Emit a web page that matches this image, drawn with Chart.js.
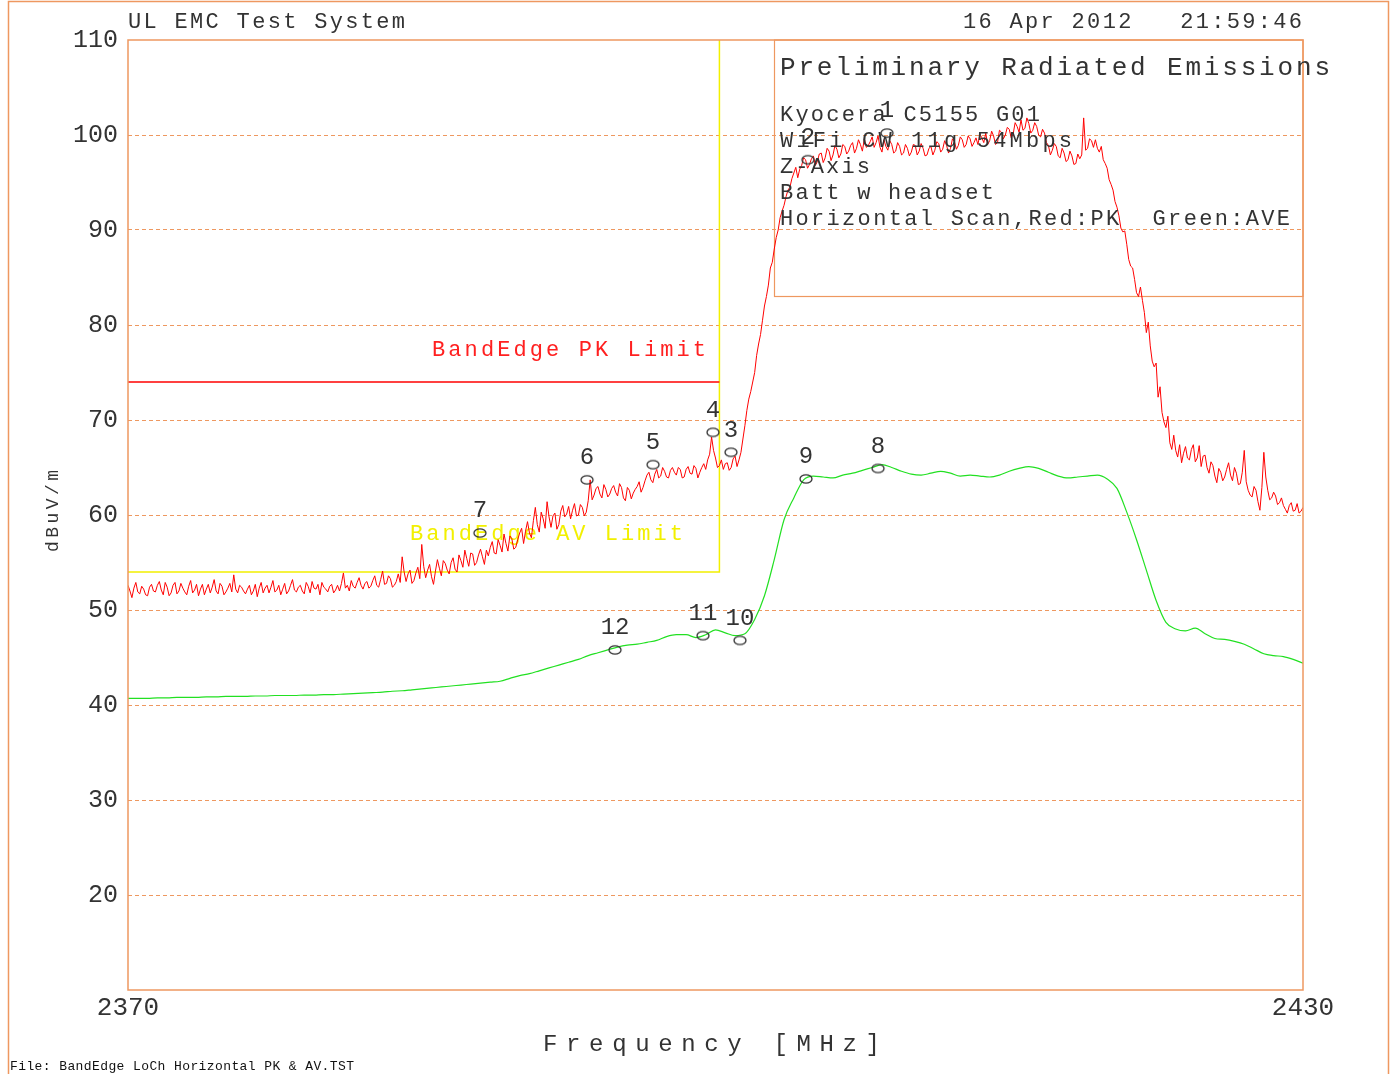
<!DOCTYPE html>
<html>
<head>
<meta charset="utf-8">
<script src="https://cdn.jsdelivr.net/npm/chart.js@4.4.1/dist/chart.umd.min.js"></script>
<style>
html,body{margin:0;padding:0;background:#fff;}
canvas{display:block;}
</style>
</head>
<body>
<canvas id="c" width="1393" height="1074"></canvas>
<script>
// ---- data ----
const freqStart = 2370, freqEnd = 2430;
const pkStep = 0.1;   // MHz between PK sweep points
const avStep = 0.5;   // MHz between AVE sweep points
const pkValues = [
52.6,52.0,51.3,52.3,52.9,51.9,51.7,52.5,52.2,51.6,51.5,52.4,52.7,52.0,51.9,52.6,53.0,52.1,51.6,52.9,
52.4,51.5,51.8,52.6,52.9,51.7,52.0,52.8,52.3,51.9,51.6,52.5,53.1,51.8,52.1,52.7,51.5,52.2,52.7,51.6,
52.2,52.7,51.8,52.4,53.2,52.0,51.7,52.8,52.5,51.6,51.9,52.3,52.8,51.9,53.7,52.2,51.8,52.6,52.4,52.0,
51.7,52.2,52.6,51.6,52.0,52.7,51.4,52.3,52.9,51.8,52.3,52.6,51.8,52.4,53.1,51.9,52.1,52.6,51.6,52.2,
52.8,51.7,52.0,52.6,53.2,52.1,51.9,52.4,52.6,52.0,51.7,52.9,52.5,51.8,53.0,52.3,52.2,52.7,51.6,52.9,
52.4,52.2,51.9,52.5,52.7,51.8,52.1,52.6,52.0,52.8,53.9,52.3,52.6,52.0,53.1,52.5,52.3,52.9,53.4,52.6,
52.2,52.8,53.0,52.3,52.5,53.1,53.6,52.6,52.4,53.2,54.1,52.7,52.8,53.6,53.3,52.4,52.6,53.0,53.8,52.9,
55.6,54.0,53.0,53.8,54.2,52.8,53.1,53.9,54.5,53.3,56.9,54.6,53.4,54.2,54.8,53.5,52.7,54.1,55.3,54.4,
53.6,55.2,54.9,54.2,53.8,55.0,55.5,54.3,54.0,55.8,55.2,54.5,56.3,55.4,54.6,56.0,55.9,54.7,55.0,55.8,
56.4,55.6,54.8,56.3,55.7,56.6,57.2,56.0,55.9,57.4,56.8,56.1,58.0,57.0,56.2,57.8,57.5,56.4,56.6,57.4,
58.1,58.6,57.0,58.3,59.3,58.1,57.6,59.4,60.8,59.0,58.2,60.3,59.6,58.6,61.4,59.8,58.7,59.9,60.2,58.5,
59.0,60.4,61.0,59.8,60.1,60.9,59.6,60.5,61.2,59.9,60.0,61.1,60.8,59.9,60.3,61.5,63.7,61.6,62.1,62.8,
63.0,62.2,61.8,63.2,62.7,61.9,62.2,62.8,63.1,62.4,62.0,63.3,62.9,61.8,61.5,62.9,62.6,61.7,62.3,62.7,
63.0,63.5,62.4,62.9,63.6,64.2,64.5,63.7,63.4,64.3,64.8,63.9,64.1,65.0,64.6,64.0,63.9,64.7,65.0,64.5,
64.2,65.0,64.8,63.9,64.0,64.8,65.1,64.4,64.3,65.2,64.9,63.9,64.5,65.0,65.4,64.8,65.8,66.4,68.2,66.8,
66.0,65.0,65.2,65.8,64.8,65.4,65.5,64.7,65.0,65.9,66.2,65.1,65.8,66.6,68.0,69.4,71.0,72.2,73.0,74.0,
75.0,76.8,78.0,79.0,80.5,82.0,83.0,84.2,86.0,86.6,88.0,89.2,90.0,91.3,92.0,92.6,93.5,94.2,94.5,95.4,
96.0,96.6,95.5,96.4,96.8,97.6,97.4,96.5,96.9,97.5,97.8,96.8,97.2,98.0,98.1,97.1,97.6,98.6,98.3,97.3,
97.9,98.9,98.5,97.6,98.0,99.0,98.8,98.0,98.3,98.9,99.2,98.1,98.6,99.5,99.0,98.3,99.6,98.7,98.9,99.3,
99.8,98.7,99.2,99.9,98.7,98.2,99.5,98.8,98.4,99.4,99.0,98.1,98.3,99.2,98.8,97.9,98.1,99.0,98.6,97.8,
98.2,99.0,98.9,97.9,98.3,99.1,98.6,97.8,97.9,98.6,98.8,97.9,98.4,99.3,99.1,98.2,98.5,99.4,98.9,98.1,
98.6,99.6,99.3,98.5,98.9,99.8,99.5,98.7,99.0,99.9,99.6,98.8,99.2,99.7,99.0,100.1,99.7,99.2,100.2,99.0,
99.4,100.4,99.9,99.0,99.2,100.5,100.3,99.6,100.0,100.8,100.6,99.7,100.1,101.3,100.9,100.3,101.6,100.5,100.7,101.8,
101.2,100.2,100.5,101.3,100.9,100.0,99.8,100.6,100.2,99.2,98.9,97.9,98.4,99.1,98.8,97.8,97.6,98.6,98.1,97.2,
97.4,98.3,97.8,96.9,97.0,98.0,97.5,97.9,101.8,98.4,98.6,99.6,99.4,98.7,99.5,98.6,98.2,98.8,97.4,97.0,
96.5,95.3,94.8,94.2,93.0,92.4,91.5,90.2,89.8,89.9,88.5,86.9,86.2,86.0,84.8,83.4,83.0,84.0,82.6,81.3,
79.2,80.3,77.8,76.2,75.6,76.0,72.4,73.5,70.8,69.8,69.2,70.4,67.6,66.9,68.4,66.8,66.1,67.4,65.5,66.5,
67.2,66.0,65.8,66.9,67.4,65.6,66.0,67.3,65.1,66.2,66.3,65.0,64.4,65.6,65.2,64.1,63.4,64.9,64.5,63.6,
64.0,64.8,65.5,64.2,63.6,65.0,64.4,63.2,63.3,64.5,66.8,63.5,62.6,62.1,61.9,63.0,62.6,61.4,60.5,62.9,
66.6,64.0,62.6,61.6,61.8,62.4,62.0,61.1,61.3,61.8,61.0,60.6,60.2,61.0,61.3,60.4,60.5,61.2,60.2,60.4,
60.8
];
const avValues = [
40.7,40.7,40.7,40.75,40.75,40.8,40.8,40.8,40.85,40.85,
40.9,40.9,40.9,40.95,40.95,41.0,41.0,41.0,41.05,41.05,
41.1,41.1,41.15,41.2,41.25,41.3,41.35,41.45,41.5,41.6,
41.7,41.8,41.9,42.0,42.1,42.2,42.3,42.4,42.5,42.8,
43.1,43.3,43.6,43.9,44.2,44.5,44.8,45.2,45.5,45.8,
46.1,46.3,46.4,46.6,46.8,47.2,47.4,47.4,47.1,47.4,
47.9,47.6,47.3,47.5,49.0,51.5,55.3,59.5,61.8,63.7,
64.1,64.0,63.9,64.2,64.4,64.7,65.0,65.3,65.0,64.6,
64.3,64.2,64.4,64.6,64.4,64.1,64.2,64.1,64.0,64.2,
64.6,64.9,65.1,64.9,64.5,64.1,63.9,64.0,64.1,64.2,
63.8,62.8,60.3,57.4,54.2,51.0,48.7,48.0,47.8,48.1,
47.5,47.0,46.9,46.7,46.4,45.9,45.4,45.2,45.1,44.8,
44.4
];
const pkLimitFreq = [2370, 2400.2];
const pkLimitVal  = [74, 74];
const avLimitFreq = [2370, 2400.2, 2400.2];
const avLimitVal  = [54, 54, 110];
const markerLabels = ['1','2','3','4','5','6','7','8','9','10','11','12'];
const markerFreq = [2408.76,2404.72,2400.79,2399.87,2396.81,2393.44,2387.97,2408.30,2404.62,2401.25,2399.36,2394.87];
const markerVal  = [100.2,97.4,66.6,68.7,65.3,63.7,58.1,64.9,63.8,46.8,47.3,45.8];
const yTickValues = [20,30,40,50,60,70,80,90,100,110];
const xTickValues = [2370, 2430];
const infoLines = ['Kyocera C5155 G01','WiFi CW 11g 54Mbps','Z-Axis','Batt w headset','Horizontal Scan,Red:PK  Green:AVE'];

// ---- build ----
const pkPts = pkValues.map((v,i)=>({x: freqStart + i*pkStep, y: v}));
const avPts = avValues.map((v,i)=>({x: freqStart + i*avStep, y: v}));
const pkLim = pkLimitFreq.map((f,i)=>({x:f, y:pkLimitVal[i]}));
const avLim = avLimitFreq.map((f,i)=>({x:f, y:avLimitVal[i]}));
const mkPts = markerFreq.map((f,i)=>({x:f, y:markerVal[i]}));

const FONT = '"Liberation Mono", "DejaVu Sans Mono", monospace';
const ORANGE = '#ee9860';
const TXT = '#333';

const oc = document.createElement('canvas'); oc.width = 16; oc.height = 12;
(function(){const g = oc.getContext('2d'); g.strokeStyle = '#333'; g.lineWidth = 1.3; g.beginPath(); g.ellipse(8,6,6,4.2,0,0,Math.PI*2); g.stroke();})();

function fitText(ctx, s, x0, x1, yc, size, color){
  ctx.save();
  ctx.font = size + 'px ' + FONT;
  ctx.fillStyle = color; ctx.textBaseline = 'middle'; ctx.textAlign = 'left';
  ctx.letterSpacing = '0px';
  const w = ctx.measureText(s).width;
  const ls = s.length > 1 ? (x1 - x0 - w) / (s.length - 1) : 0;
  ctx.letterSpacing = ls + 'px';
  ctx.fillText(s, x0, yc);
  ctx.restore();
}

const decor = {
  id: 'decor',
  beforeDatasetsDraw(chart){
    const ctx = chart.ctx, a = chart.chartArea, xs = chart.scales.x, ys = chart.scales.y;
    ctx.save();
    ctx.strokeStyle = ORANGE; ctx.lineWidth = 1.2;
    const bx = xs.getPixelForValue(2403), by = ys.getPixelForValue(83);
    ctx.strokeRect(Math.round(bx)+0.5, a.top, a.right - Math.round(bx) - 0.5, by - a.top);
    ctx.restore();
    fitText(ctx, 'BandEdge PK Limit', 432, 706, 350, 22, '#ff2020');
    fitText(ctx, 'BandEdge AV Limit', 410, 683, 534, 22, '#f2f000');
  },
  afterDatasetsDraw(chart){
    const ctx = chart.ctx, a = chart.chartArea;
    ctx.save();
    ctx.strokeStyle = ORANGE; ctx.lineWidth = 1.5;
    ctx.strokeRect(a.left, a.top, a.right - a.left, a.bottom - a.top);
    ctx.beginPath();
    ctx.moveTo(8.5, 1074); ctx.lineTo(8.5, 1.5); ctx.lineTo(1388.5, 1.5); ctx.lineTo(1388.5, 1074);
    ctx.stroke();
    ctx.restore();
    const meta = chart.getDatasetMeta(0);
    ctx.save();
    ctx.font = '24px ' + FONT; ctx.fillStyle = '#333'; ctx.textAlign = 'center'; ctx.textBaseline = 'middle';
    meta.data.forEach((p,i)=>{ ctx.fillText(markerLabels[i], p.x, p.y - 22); });
    ctx.restore();
    fitText(ctx, 'UL EMC Test System', 128, 405, 22, 22, TXT);
    fitText(ctx, '16 Apr 2012   21:59:46', 963, 1302, 22, 22, TXT);
    fitText(ctx, 'Preliminary Radiated Emissions', 780, 1330, 68, 26, TXT);
    const ends = [1040, 1072, 870, 994, 1290];
    infoLines.forEach((s,i)=> fitText(ctx, s, 780, ends[i], 115 + 26*i, 22, TXT));
    fitText(ctx, 'Frequency [MHz]', 543, 880, 1045, 24, TXT);
    fitText(ctx, 'File: BandEdge LoCh Horizontal PK & AV.TST', 10, 354, 1067, 13, '#111');
    ctx.save();
    ctx.translate(53, 552); ctx.rotate(-Math.PI/2);
    fitText(ctx, 'dBuV/m', 0, 82, 0, 18, TXT);
    ctx.restore();
  }
};

new Chart(document.getElementById('c'), {
  type: 'line',
  data: { datasets: [
    { data: mkPts, showLine: false, pointStyle: oc, pointRadius: 6, borderColor: '#333' },
    { data: pkPts, borderColor: '#ff0000', borderWidth: 1, pointRadius: 0, tension: 0 },
    { data: avPts, borderColor: '#22e022', borderWidth: 1.2, pointRadius: 0, cubicInterpolationMode: 'monotone' },
    { data: pkLim, borderColor: '#ff0000', borderWidth: 1.3, pointRadius: 0 },
    { data: avLim, borderColor: '#f2f000', borderWidth: 1.5, pointRadius: 0 }
  ]},
  options: {
    responsive: false, animation: false, events: [],
    plugins: { legend: { display: false }, tooltip: { enabled: false } },
    layout: { padding: { top: 40, right: 90, left: 0, bottom: 0 } },
    scales: {
      x: {
        type: 'linear', min: freqStart, max: freqEnd,
        grid: { display: false, drawTicks: false }, border: { display: false },
        afterBuildTicks: s => { s.ticks = xTickValues.map(v => ({ value: v })); },
        afterFit: s => { s.height = 84; },
        ticks: { font: { family: FONT, size: 26 }, color: TXT, padding: 3, maxRotation: 0, autoSkip: false, callback: v => String(v) }
      },
      y: {
        min: 10, max: 110,
        afterBuildTicks: s => { s.ticks = [10].concat(yTickValues).map(v => ({ value: v })); },
        afterFit: s => { s.width = 128; },
        grid: { drawTicks: false, lineWidth: 1, color: c => (c.tick && (c.tick.value === 10 || c.tick.value === 110)) ? 'rgba(0,0,0,0)' : ORANGE },
        border: { display: false, dash: [4, 3] },
        ticks: { font: { family: FONT, size: 25 }, color: TXT, padding: 10, callback: v => v === 10 ? '' : String(v) }
      }
    }
  },
  plugins: [decor]
});
</script>
</body>
</html>
